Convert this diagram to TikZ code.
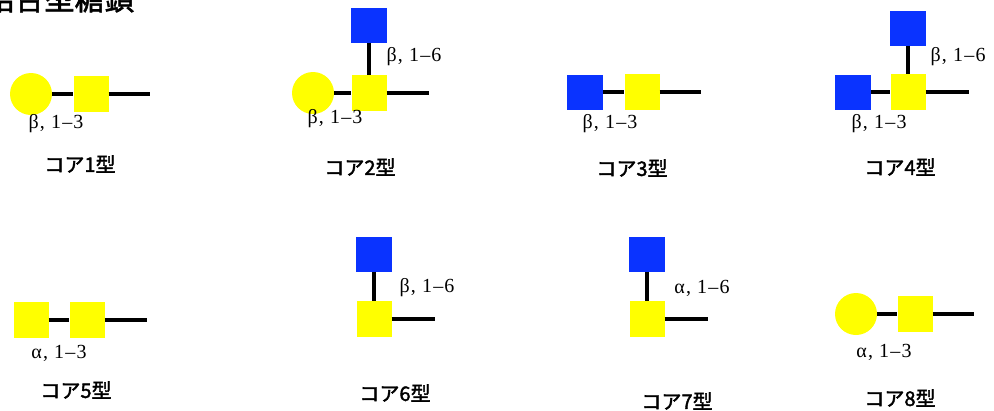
\documentclass[tikz,border=0pt]{standalone}
\usepackage{fontspec}
\setmainfont{Liberation Serif}
\newfontfamily\jpfont[FakeBold=1.8]{Noto Sans CJK JP}
\newfontfamily\lnkfont[LetterSpace=6]{Liberation Serif}
\usetikzlibrary{positioning}
\definecolor{galyellow}{HTML}{FFFF00}
\definecolor{glcblue}{HTML}{0A33FF}

\begin{document}
\begin{tikzpicture}[x=1pt,y=-1pt,
  gal/.style={circle,fill=galyellow,minimum size=42pt,inner sep=0pt},
  galnac/.style={rectangle,fill=galyellow,minimum width=35pt,minimum height=36pt,inner sep=0pt},
  glcnac/.style={rectangle,fill=glcblue,minimum width=36pt,minimum height=35pt,inner sep=0pt},
  bond/.style={line width=3.2pt,black},
  lnk/.style={font=\lnkfont\fontsize{20}{22}\selectfont},
  corename/.style={font=\jpfont\fontsize{20}{24}\selectfont}]
  \useasboundingbox (0,0) rectangle (994,410);

  % Title (cut at the top edge)
  \node[font=\jpfont\fontsize{30}{34}\selectfont,anchor=base east] (title) at (138,10) {結合型糖鎖};

  % Core 1
  \node[gal] (c1gal) at (31,94) {};
  \node[galnac] (c1gn) at (91,94) {};
  \coordinate (c1end) at (150,94);
  \draw[bond] (c1gal) -- (c1gn) -- (c1end);
  \node[lnk] (c1l) at (56,124) {β, 1–3};
  \node[corename] (c1name) at (80,164) {コア1型};

  % Core 2
  \node[glcnac] (c2glc) at (369,25) {};
  \node[galnac] (c2gn) at (369,93) {};
  \node[gal] (c2gal) at (313,93) {};
  \coordinate (c2end) at (429,93);
  \draw[bond] (c2glc) -- (c2gn);
  \draw[bond] (c2gal) -- (c2gn) -- (c2end);
  \node[lnk] (c2la) at (414,57) {β, 1–6};
  \node[lnk] (c2lb) at (335,119) {β, 1–3};
  \node[corename] (c2name) at (360,167) {コア2型};

  % Core 3
  \node[glcnac] (c3glc) at (585,92) {};
  \node[galnac] (c3gn) at (642,92) {};
  \coordinate (c3end) at (701,92);
  \draw[bond] (c3glc) -- (c3gn) -- (c3end);
  \node[lnk] (c3l) at (610,124) {β, 1–3};
  \node[corename] (c3name) at (632,168) {コア3型};

  % Core 4
  \node[glcnac] (c4top) at (908,28) {};
  \node[galnac] (c4gn) at (908,92) {};
  \node[glcnac] (c4left) at (853,92) {};
  \coordinate (c4end) at (969,92);
  \draw[bond] (c4top) -- (c4gn);
  \draw[bond] (c4left) -- (c4gn) -- (c4end);
  \node[lnk] (c4la) at (958,57) {β, 1–6};
  \node[lnk] (c4lb) at (879,124) {β, 1–3};
  \node[corename] (c4name) at (900,167) {コア4型};

  % Core 5
  \node[galnac] (c5gna) at (31,320) {};
  \node[galnac] (c5gnb) at (87,320) {};
  \coordinate (c5end) at (147,320);
  \draw[bond] (c5gna) -- (c5gnb) -- (c5end);
  \node[lnk] (c5l) at (59,353) {α, 1–3};
  \node[corename] (c5name) at (76,390) {コア5型};

  % Core 6
  \node[glcnac] (c6glc) at (374,254) {};
  \node[galnac] (c6gn) at (374,319) {};
  \coordinate (c6end) at (435,319);
  \draw[bond] (c6glc) -- (c6gn);
  \draw[bond] (c6gn) -- (c6end);
  \node[lnk] (c6l) at (427,288) {β, 1–6};
  \node[corename] (c6name) at (395,393) {コア6型};

  % Core 7
  \node[glcnac] (c7glc) at (647,254) {};
  \node[galnac] (c7gn) at (647,319) {};
  \coordinate (c7end) at (708,319);
  \draw[bond] (c7glc) -- (c7gn);
  \draw[bond] (c7gn) -- (c7end);
  \node[lnk] (c7l) at (702,288) {α, 1–6};
  \node[corename] (c7name) at (677,401) {コア7型};

  % Core 8
  \node[gal] (c8gal) at (856,314) {};
  \node[galnac] (c8gn) at (915,314) {};
  \coordinate (c8end) at (974,314);
  \draw[bond] (c8gal) -- (c8gn) -- (c8end);
  \node[lnk] (c8l) at (884,352) {α, 1–3};
  \node[corename] (c8name) at (900,398) {コア8型};
\end{tikzpicture}
\end{document}
